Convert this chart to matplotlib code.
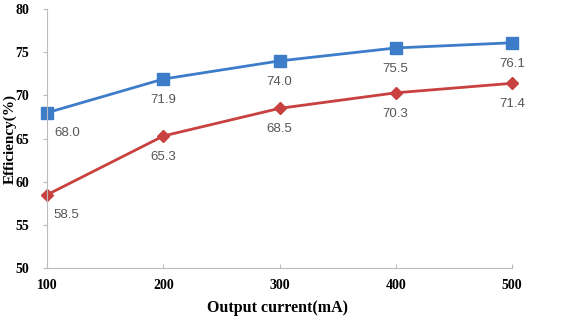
import matplotlib.pyplot as plt

current = [100, 200, 300, 400, 500]
eff_blue = [68.0, 71.9, 74.0, 75.5, 76.1]
eff_red = [58.5, 65.3, 68.5, 70.3, 71.4]
y_ticks = [50, 55, 60, 65, 70, 75, 80]

fig = plt.figure(figsize=(5.77, 3.26), dpi=100)
ax = fig.add_axes([0.082, 0.178, 0.805, 0.794])

ax.plot(current, eff_blue, color='#3D7CC9', linewidth=2, marker='s', markersize=8, clip_on=False)
ax.plot(current, eff_red, color='#C8403F', linewidth=2, marker='D', markersize=6, clip_on=False)

for x, v in zip(current, eff_blue):
    dx = 14 if x == 100 else 0
    ax.annotate('%.1f' % v, (x, v), xytext=(dx, -15), textcoords='offset points',
                ha='center', va='center', fontsize=9.5, color='#555555', family='Liberation Sans')
for x, v in zip(current, eff_red):
    dx = 14 if x == 100 else 0
    ax.annotate('%.1f' % v, (x, v), xytext=(dx, -15), textcoords='offset points',
                ha='center', va='center', fontsize=9.5, color='#555555', family='Liberation Sans')

ax.set_xlim(100, 500)
ax.set_ylim(50, 80)
ax.set_xticks(current)
ax.set_yticks(y_ticks)
for lab in ax.get_xticklabels() + ax.get_yticklabels():
    lab.set_family('Liberation Serif')
    lab.set_fontweight('bold')
    lab.set_fontsize(10)
ax.tick_params(axis='x', direction='in', length=3, color='#BBBBBB', pad=8)
ax.tick_params(axis='y', direction='out', length=3, color='#BBBBBB', pad=10)

ax.spines['top'].set_visible(False)
ax.spines['right'].set_visible(False)
ax.spines['left'].set_color('#BBBBBB')
ax.spines['bottom'].set_color('#BBBBBB')

ax.set_xlabel('Output current(mA)', family='Liberation Serif', fontweight='bold', fontsize=11.5)
ax.xaxis.set_label_coords(0.495, -0.125)
ax.set_ylabel('Efficiency(%)', family='Liberation Serif', fontweight='bold', fontsize=11)
ax.yaxis.set_label_coords(-0.066, 0.5)

plt.savefig('out.png', dpi=100)
